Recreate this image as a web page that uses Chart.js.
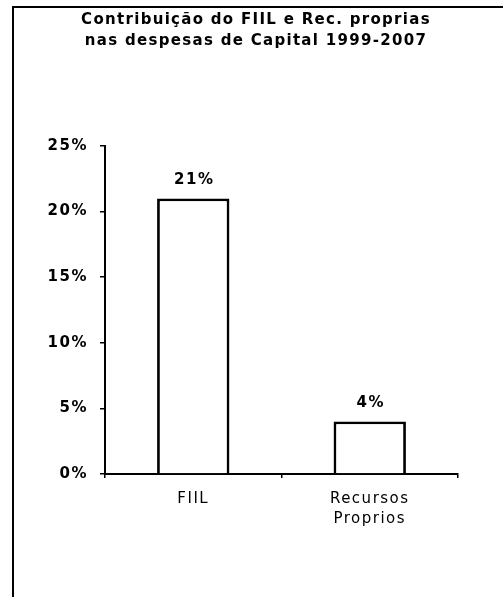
<!DOCTYPE html>
<html><head><meta charset="utf-8">
<script src="https://cdn.jsdelivr.net/npm/chart.js@4"></script>
<style>
html,body{margin:0;padding:0;background:#fff;}
#frame{position:absolute;left:12px;top:6px;width:491px;height:591px;border-left:2px solid #000;border-top:2px solid #000;box-sizing:border-box;}
#wrap{position:absolute;left:0;top:0;width:503px;height:597px;}
</style></head><body>
<div id="frame"></div>
<div id="wrap"><canvas id="c" width="503" height="597"></canvas></div>
<script>
const titleLines = ["Contribuição do FIIL e Rec. proprias", "nas despesas de Capital 1999-2007"];
const categories = [["FIIL"], ["Recursos", "Proprios"]];
const values = [21, 4];
const yTicks = [0, 5, 10, 15, 20, 25];

const FONT = '"DejaVu Sans", Verdana, sans-serif';

const spacing = {
  id: 'spacing',
  beforeUpdate(chart) { chart.ctx.letterSpacing = '1.5px'; },
  beforeDraw(chart) { chart.ctx.letterSpacing = '1.5px'; }
};

const titleDraw = {
  id: 'titleDraw',
  afterDraw(chart) {
    const ctx = chart.ctx;
    ctx.save();
    ctx.letterSpacing = '1.3px';
    ctx.font = 'bold 15px ' + FONT;
    ctx.fillStyle = '#000';
    ctx.textAlign = 'center';
    ctx.textBaseline = 'middle';
    titleLines.forEach((t, i) => ctx.fillText(t, 256, 20 + i * 21));
    ctx.restore();
  }
};

const valueLabels = {
  id: 'valueLabels',
  afterDatasetsDraw(chart) {
    const ctx = chart.ctx;
    const meta = chart.getDatasetMeta(0);
    ctx.save();
    ctx.letterSpacing = '1.5px';
    ctx.font = 'bold 15px ' + FONT;
    ctx.fillStyle = '#000';
    ctx.textAlign = 'center';
    ctx.textBaseline = 'bottom';
    meta.data.forEach((bar, i) => {
      ctx.fillText(values[i] + '%', bar.x + 1, bar.y - 11);
    });
    ctx.restore();
  }
};

new Chart(document.getElementById('c'), {
  type: 'bar',
  data: {
    labels: categories,
    datasets: [{
      data: values,
      backgroundColor: '#fff',
      borderColor: '#000',
      borderWidth: 2.8,
      barPercentage: 0.41,
      categoryPercentage: 1.0
    }]
  },
  options: {
    responsive: false,
    animation: false,
    layout: { padding: { left: 0, right: 45, top: 146, bottom: 0 } },
    plugins: {
      legend: { display: false },
      tooltip: { enabled: false },
      title: { display: false }
    },
    scales: {
      y: {
        min: 0, max: 25,
        afterBuildTicks(axis) { axis.ticks = yTicks.map(v => ({ value: v })); },
        afterFit(axis) { axis.width = 105; },
        ticks: {
          callback: v => v + '%',
          color: '#000',
          padding: 12,
          font: { family: FONT, size: 15, weight: 'bold' }
        },
        grid: { display: true, drawOnChartArea: false, drawTicks: true, tickLength: 5, color: '#000', lineWidth: 1.5 },
        border: { display: true, color: '#000', width: 2 }
      },
      x: {
        afterFit(axis) { axis.height = 123; },
        ticks: {
          color: '#000',
          padding: 11,
          font: { family: FONT, size: 15, lineHeight: 1.35 }
        },
        grid: { display: true, drawOnChartArea: false, offset: true, tickLength: 4, color: '#000', lineWidth: 1.5 },
        border: { display: true, color: '#000', width: 2 }
      }
    }
  },
  plugins: [spacing, valueLabels, titleDraw]
});
</script>
</body></html>
